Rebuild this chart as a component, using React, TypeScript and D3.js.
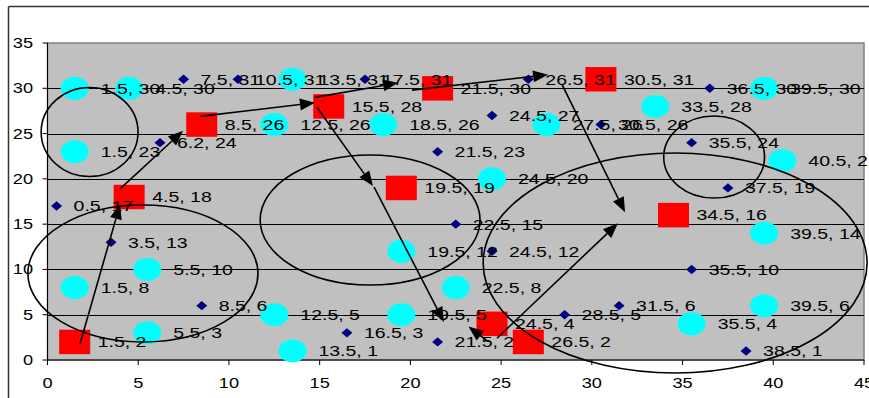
import React from 'react';
import * as d3 from 'd3';

const W = 869;
const H = 398;

const xTicks = [0, 5, 10, 15, 20, 25, 30, 35, 40, 45];
const yTicks = [0, 5, 10, 15, 20, 25, 30, 35];

// Series 1: navy diamonds
const diamondPts: [number, number][] = [
  [7.5, 31], [10.5, 31], [17.5, 31], [26.5, 31], [36.5, 30], [24.5, 27], [30.5, 26],
  [6.2, 24], [35.5, 24], [21.5, 23], [37.5, 19], [0.5, 17], [22.5, 15], [3.5, 13],
  [24.5, 12], [35.5, 10], [8.5, 6], [31.5, 6], [28.5, 5], [16.5, 3], [21.5, 2], [38.5, 1],
];

// Series 2: cyan circles
const circlePts: [number, number][] = [
  [1.5, 30], [4.5, 30], [13.5, 31], [39.5, 30], [33.5, 28], [12.5, 26], [18.5, 26],
  [27.5, 26], [1.5, 23], [40.5, 22], [24.5, 20], [39.5, 14], [19.5, 12], [5.5, 10],
  [1.5, 8], [22.5, 8], [39.5, 6], [12.5, 5], [19.5, 5], [35.5, 4], [5.5, 3], [13.5, 1],
];

// Series 3: red squares
const squarePts: [number, number][] = [
  [1.5, 2], [4.5, 18], [8.5, 26], [15.5, 28], [21.5, 30], [30.5, 31], [19.5, 19],
  [34.5, 16], [24.5, 4], [26.5, 2],
];

// Annotation ellipses (data units): cx, cy, rx, ry
const ellipseCx = [2.32, 5.26, 17.78, 34.59, 36.74];
const ellipseCy = [25.17, 9.55, 15.46, 10.71, 22.41];
const ellipseRx = [2.67, 6.34, 6.06, 10.58, 2.78];
const ellipseRy = [4.91, 7.56, 7.18, 12.15, 4.53];

// Annotation arrows (data units): [x1, y1, x2, y2]
const arrowSegs: [number, number, number, number][] = [
  [1.79, 1.77, 4.0, 17.2],
  [4.0, 18.9, 7.47, 25.3],
  [8.4, 26.9, 14.74, 28.4],
  [14.74, 29.0, 19.32, 30.6],
  [20.09, 29.8, 27.59, 31.5],
  [28.36, 30.4, 31.83, 16.3],
  [14.85, 27.9, 17.94, 19.2],
  [18.0, 19.1, 21.85, 4.2],
  [24.3, 2.0, 23.2, 3.7],
  [24.77, 2.4, 31.44, 15.1],
];

const SX = 1.3;
const FONT = 'Liberation Sans, Arial, sans-serif';

function fmt(v: number) {
  return String(v);
}

export default function App() {
  const x = d3.scaleLinear().domain([0, 45]).range([47.5, 864]);
  const y = d3.scaleLinear().domain([0, 35]).range([360, 43]);
  const sxU = x(1) - x(0);
  const syU = y(0) - y(1);

  const label = (px: number, py: number, dx: number, text: string, key: string) => (
    <text
      key={key}
      transform={`translate(${px + dx},${py}) scale(${SX},1)`}
      dy="0.36em"
      fontSize={15}
      fontFamily={FONT}
      fill="#000"
    >
      {text}
    </text>
  );

  const arrowEls = arrowSegs.map(([x1, y1, x2, y2], i) => {
    const px1 = x(x1), py1 = y(y1), px2 = x(x2), py2 = y(y2);
    const ang = Math.atan2(py2 - py1, px2 - px1);
    const len = 15, hw = 6;
    const bx = px2 - len * Math.cos(ang), by = py2 - len * Math.sin(ang);
    const nx = -Math.sin(ang), ny = Math.cos(ang);
    const pts = [
      [px2, py2],
      [bx + nx * hw, by + ny * hw],
      [bx - nx * hw, by - ny * hw],
    ].map((p) => p.join(',')).join(' ');
    return (
      <g key={'a' + i}>
        <line x1={px1} y1={py1} x2={bx} y2={by} stroke="#000" strokeWidth={1.6} />
        <polygon points={pts} fill="#000" />
      </g>
    );
  });

  return (
    <svg width={W} height={H} style={{ position: 'absolute', left: 0, top: 0, background: '#fff' }}>
      <rect x={0} y={0} width={W} height={H} fill="#fff" />
      {/* chart area border */}
      <line x1={8.5} y1={6.5} x2={W} y2={6.5} stroke="#333" strokeWidth={1.5} />
      <line x1={8.5} y1={6.5} x2={8.5} y2={H} stroke="#333" strokeWidth={1.5} />
      {/* plot area */}
      <rect x={x(0)} y={y(35)} width={x(45) - x(0)} height={y(0) - y(35)} fill="#C0C0C0" stroke="#808080" strokeWidth={1.5} />
      {yTicks.filter((t) => t > 0 && t < 35).map((t) => (
        <line key={'g' + t} x1={x(0)} x2={x(45)} y1={Math.round(y(t)) + 0.5} y2={Math.round(y(t)) + 0.5} stroke="#000" strokeWidth={1} />
      ))}
      {/* axes */}
      <line x1={x(0)} x2={x(0)} y1={y(35)} y2={y(0) + 5} stroke="#000" strokeWidth={1} />
      <line x1={x(0)} x2={x(45)} y1={y(0)} y2={y(0)} stroke="#000" strokeWidth={1} />
      {yTicks.map((t) => (
        <g key={'yt' + t}>
          <line x1={x(0) - 5} x2={x(0)} y1={y(t)} y2={y(t)} stroke="#000" />
          <text
            transform={`translate(33,${y(t)}) scale(${SX},1)`}
            dy="0.36em"
            textAnchor="end"
            fontSize={14}
            fontFamily={FONT}
          >
            {t}
          </text>
        </g>
      ))}
      {xTicks.map((t) => (
        <g key={'xt' + t}>
          <line x1={x(t)} x2={x(t)} y1={y(0)} y2={y(0) + 5} stroke="#000" />
          <text
            transform={`translate(${x(t)},383) scale(${SX},1)`}
            dy="0.36em"
            textAnchor="middle"
            fontSize={14}
            fontFamily={FONT}
          >
            {t}
          </text>
        </g>
      ))}
      {/* markers */}
      {diamondPts.map(([a, b], i) => {
        const px = x(a), py = y(b);
        return (
          <polygon
            key={'d' + i}
            points={`${px},${py - 4.7} ${px + 5.5},${py} ${px},${py + 4.7} ${px - 5.5},${py}`}
            fill="#000080"
          />
        );
      })}
      {circlePts.map(([a, b], i) => (
        <ellipse key={'c' + i} cx={x(a)} cy={y(b)} rx={14} ry={11.5} fill="#00FFFF" />
      ))}
      {squarePts.map(([a, b], i) => (
        <rect key={'s' + i} x={x(a) - 15.5} y={y(b) - 12.2} width={31} height={24.5} fill="#FF0000" />
      ))}
      {/* labels */}
      {diamondPts.map(([a, b], i) => label(x(a), y(b), 17, `${fmt(a)}, ${fmt(b)}`, 'ld' + i))}
      {circlePts.map(([a, b], i) => label(x(a), y(b), 26, `${fmt(a)}, ${fmt(b)}`, 'lc' + i))}
      {squarePts.map(([a, b], i) => label(x(a), y(b), 23, `${fmt(a)}, ${fmt(b)}`, 'ls' + i))}
      {/* ellipses */}
      {ellipseCx.map((cx, i) => (
        <ellipse
          key={'e' + i}
          cx={x(cx)}
          cy={y(ellipseCy[i])}
          rx={ellipseRx[i] * sxU}
          ry={ellipseRy[i] * syU}
          fill="none"
          stroke="#000"
          strokeWidth={1.6}
        />
      ))}
      {arrowEls}
    </svg>
  );
}
